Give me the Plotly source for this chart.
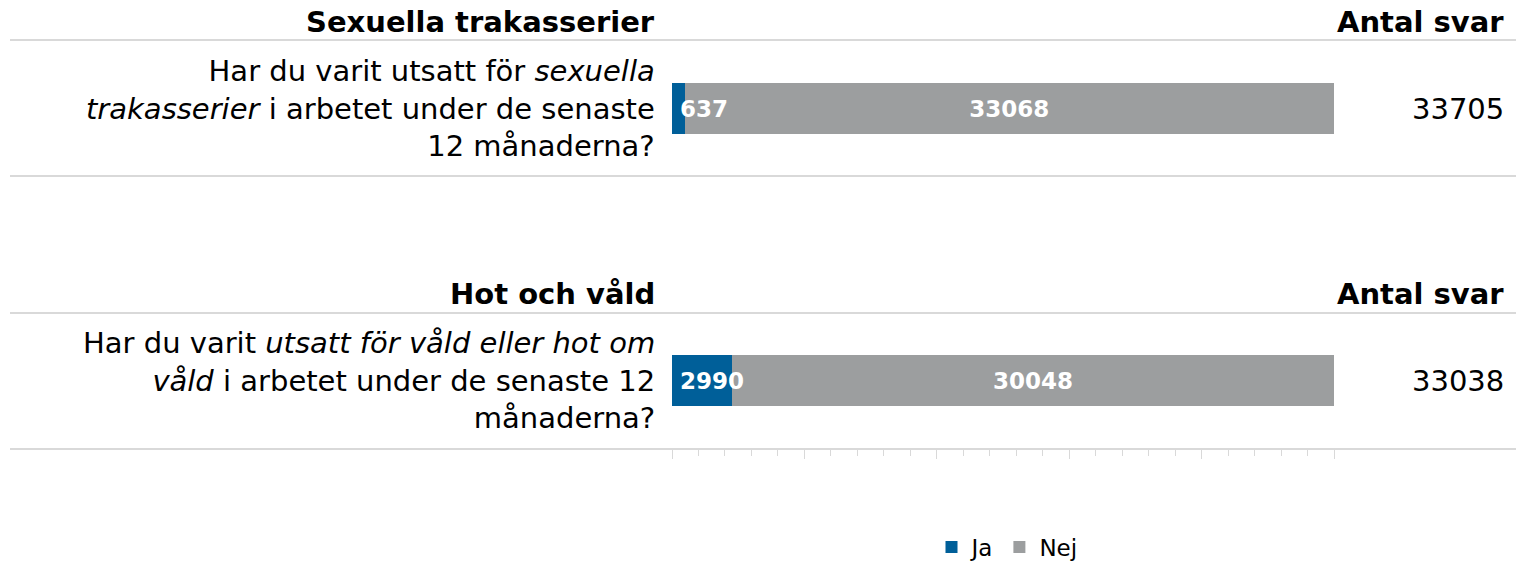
import plotly.graph_objs as go

# data
sections = ["Sexuella trakasserier", "Hot och våld"]
questions = [
    "Har du varit utsatt för <i>sexuella</i><br><i>trakasserier</i> i arbetet under de senaste<br>12 månaderna?",
    "Har du varit <i>utsatt för våld eller hot om</i><br><i>våld</i> i arbetet under de senaste 12<br>månaderna?",
]
ja = [637, 2990]
nej = [33068, 30048]
series_names = ["Ja", "Nej"]
totals_header = "Antal svar"

FONT = "DejaVu Sans"
BLUE = "#005f99"
GREY = "#9c9e9f"
LINE = "#d9d9d9"

W, H = 1516, 561

totals = [a + b for a, b in zip(ja, nej)]
ja_pct = [a / t * 100 for a, t in zip(ja, totals)]
nej_pct = [b / t * 100 for b, t in zip(nej, totals)]
# top section gets the higher y value
ypos = [len(sections) - 1 - i for i in range(len(sections))]

fig = go.Figure()
fig.add_trace(go.Bar(
    y=ypos, x=ja_pct, name=series_names[0], orientation="h",
    marker=dict(color=BLUE, line=dict(width=0)), width=0.19,
    textposition="none", hoverinfo="skip",
))
fig.add_trace(go.Bar(
    y=ypos, x=nej_pct, name=series_names[1], orientation="h",
    marker=dict(color=GREY, line=dict(width=0)), width=0.19,
    text=[str(v) for v in nej], textposition="inside",
    insidetextanchor="middle", constraintext="none",
    textfont=dict(family=FONT, size=23, color="white", weight="bold"),
    hoverinfo="skip",
))

annotations = []
for i, y in enumerate(ypos):
    # Ja count, drawn from the start of the bar
    annotations.append(dict(
        x=0, y=y, xref="x", yref="y", text=f"<b>{ja[i]}</b>",
        xanchor="left", yanchor="middle", xshift=6, showarrow=False,
        font=dict(family=FONT, size=23, color="white"),
    ))
    annotations.append(dict(
        x=657 / W, y=y, xref="paper", yref="y", text=questions[i],
        xanchor="right", yanchor="middle", align="right", showarrow=False,
        font=dict(family=FONT, size=29, color="black"),
    ))
    annotations.append(dict(
        x=1506 / W, y=y, xref="paper", yref="y", text=str(totals[i]),
        xanchor="right", yanchor="middle", showarrow=False,
        font=dict(family=FONT, size=29, color="black"),
    ))
    annotations.append(dict(
        x=657 / W, y=y, xref="paper", yref="y", text=f"<b>{sections[i]}</b>",
        xanchor="right", yanchor="middle", yshift=87, showarrow=False,
        font=dict(family=FONT, size=29, color="black"),
    ))
    annotations.append(dict(
        x=1506 / W, y=y, xref="paper", yref="y", text=f"<b>{totals_header}</b>",
        xanchor="right", yanchor="middle", yshift=87, showarrow=False,
        font=dict(family=FONT, size=29, color="black"),
    ))

# thin separator lines across the table
shapes = []
for py in [40, 176, 313, 449]:
    shapes.append(dict(
        type="line", xref="paper", yref="paper",
        x0=10 / W, x1=1, y0=1 - py / H, y1=1 - py / H,
        line=dict(color=LINE, width=2), layer="below",
    ))

x_dom = [672 / W, 1334 / W]
fig.update_layout(
    barmode="stack",
    width=W, height=H,
    margin=dict(l=0, r=0, t=0, b=0, autoexpand=False),
    paper_bgcolor="white", plot_bgcolor="white",
    font=dict(family=FONT, color="black"),
    xaxis=dict(
        domain=x_dom, range=[0, 100], showgrid=False, zeroline=False,
        showline=False, showticklabels=False,
        ticks="outside", ticklen=9, tickwidth=1, tickcolor=LINE, dtick=20, tick0=0,
        minor=dict(ticks="outside", ticklen=6, tickwidth=1, tickcolor=LINE, dtick=4, tick0=0),
        fixedrange=True,
    ),
    xaxis2=dict(
        domain=x_dom, range=[0, 100], overlaying="x", anchor="y", side="bottom",
        showgrid=False, zeroline=False, showline=False, showticklabels=False,
        ticks="inside", ticklen=8, tickwidth=1, tickcolor=LINE, dtick=20, tick0=0,
    ),
    yaxis=dict(
        domain=[1 - 449 / H, 1], range=[-0.2518, 1.3989],
        visible=False, fixedrange=True,
    ),
    legend=dict(
        orientation="h", x=1007 / W, xanchor="center", y=1 - 547 / H, yanchor="middle",
        font=dict(family=FONT, size=23, color="black"), traceorder="normal",
        bgcolor="rgba(0,0,0,0)",
    ),
    annotations=annotations,
    shapes=shapes,
    showlegend=True,
)

# page has a default 8px body margin; drop it so the figure fills the window
fig.write_html(
    "out.html",
    config={"displayModeBar": False},
    post_script="document.body.style.margin='0';document.body.style.overflow='hidden';",
)
